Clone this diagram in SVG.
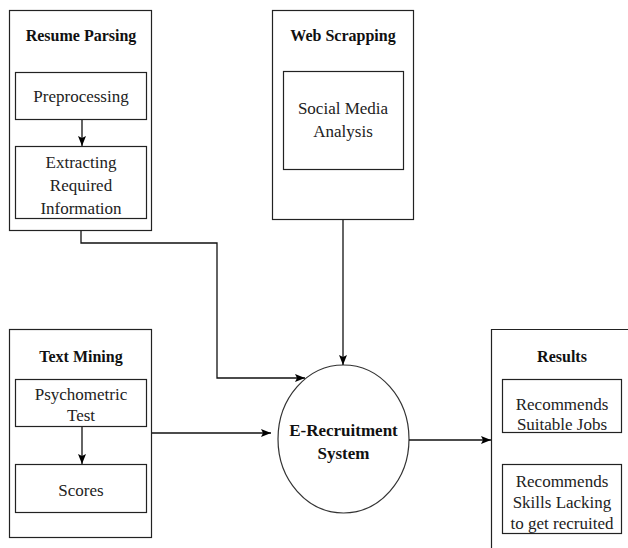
<svg xmlns="http://www.w3.org/2000/svg" width="628" height="548" viewBox="0 0 628 548">
  <defs>
    <marker id="arrow" markerWidth="10" markerHeight="8" refX="10" refY="4" orient="auto" markerUnits="userSpaceOnUse">
      <path d="M0,0 L10,4 L0,8 L2,4 Z" fill="#000"/>
    </marker>
    <style>
      .box { fill: #fff; stroke: #222; stroke-width: 1.2; }
      .wire { fill: none; stroke: #111; stroke-width: 1.3; }
      .title { font-family: "Liberation Serif", "Times New Roman", serif; font-weight: bold; font-size: 16px; fill: #111; text-anchor: middle; }
      .label { font-family: "Liberation Serif", "Times New Roman", serif; font-size: 17px; fill: #222; text-anchor: middle; }
      .hub { font-family: "Liberation Serif", "Times New Roman", serif; font-weight: bold; font-size: 17px; fill: #111; text-anchor: middle; }
    </style>
  </defs>
  <rect width="628" height="548" fill="#fff"/>

  <!-- Resume Parsing -->
  <g id="resume-parsing">
    <rect class="box" x="9.5" y="10.5" width="142" height="220"/>
    <text class="title" x="81" y="41">Resume Parsing</text>
    <g id="preprocessing">
      <rect class="box" x="15.5" y="72.5" width="131" height="47"/>
      <text class="label" x="81" y="102">Preprocessing</text>
    </g>
    <g id="extracting">
      <rect class="box" x="15.5" y="146.5" width="131" height="72"/>
      <text class="label" x="81" y="168">Extracting</text>
      <text class="label" x="81" y="191">Required</text>
      <text class="label" x="81" y="214">Information</text>
    </g>
  </g>

  <!-- Web Scrapping -->
  <g id="web-scrapping">
    <rect class="box" x="272.5" y="10.5" width="141" height="209"/>
    <text class="title" x="343" y="41">Web Scrapping</text>
    <g id="social-media">
      <rect class="box" x="283.5" y="71.5" width="120" height="98"/>
      <text class="label" x="343" y="114">Social Media</text>
      <text class="label" x="343" y="137">Analysis</text>
    </g>
  </g>

  <!-- Text Mining -->
  <g id="text-mining">
    <rect class="box" x="9.5" y="329.5" width="142" height="208"/>
    <text class="title" x="81" y="362">Text Mining</text>
    <g id="psychometric">
      <rect class="box" x="15.5" y="379.5" width="131" height="47"/>
      <text class="label" x="81" y="400">Psychometric</text>
      <text class="label" x="81" y="421">Test</text>
    </g>
    <g id="scores">
      <rect class="box" x="15.5" y="464.5" width="131" height="48"/>
      <text class="label" x="81" y="496">Scores</text>
    </g>
  </g>

  <!-- E-Recruitment System -->
  <g id="e-recruitment">
    <ellipse cx="343.5" cy="439" rx="65.5" ry="74" fill="#fff" stroke="#333" stroke-width="1.2"/>
    <text class="hub" x="343.5" y="436">E-Recruitment</text>
    <text class="hub" x="343.5" y="459">System</text>
  </g>

  <!-- Results -->
  <g id="results">
    <path class="box" d="M640,329.5 H491.5 V560"/>
    <text class="title" x="562" y="362">Results</text>
    <g id="suitable-jobs">
      <rect class="box" x="502.5" y="379.5" width="119" height="53"/>
      <text class="label" x="562" y="410">Recommends</text>
      <text class="label" x="562" y="430">Suitable Jobs</text>
    </g>
    <g id="skills-lacking">
      <rect class="box" x="502.5" y="464.5" width="119" height="69"/>
      <text class="label" x="562" y="487">Recommends</text>
      <text class="label" x="562" y="508">Skills Lacking</text>
      <text class="label" x="562" y="529">to get recruited</text>
    </g>
  </g>

  <!-- connectors -->
  <g id="connectors">
    <line class="wire" x1="82" y1="120" x2="82" y2="146" marker-end="url(#arrow)"/>
    <line class="wire" x1="82" y1="427" x2="82" y2="464" marker-end="url(#arrow)"/>
    <polyline class="wire" points="81,231 81,243 217,243 217,378 305,378" marker-end="url(#arrow)"/>
    <line class="wire" x1="343" y1="220" x2="343" y2="365" marker-end="url(#arrow)"/>
    <line class="wire" x1="152" y1="433" x2="271" y2="433" marker-end="url(#arrow)"/>
    <line class="wire" x1="409" y1="440" x2="491" y2="440" marker-end="url(#arrow)"/>
  </g>
</svg>
